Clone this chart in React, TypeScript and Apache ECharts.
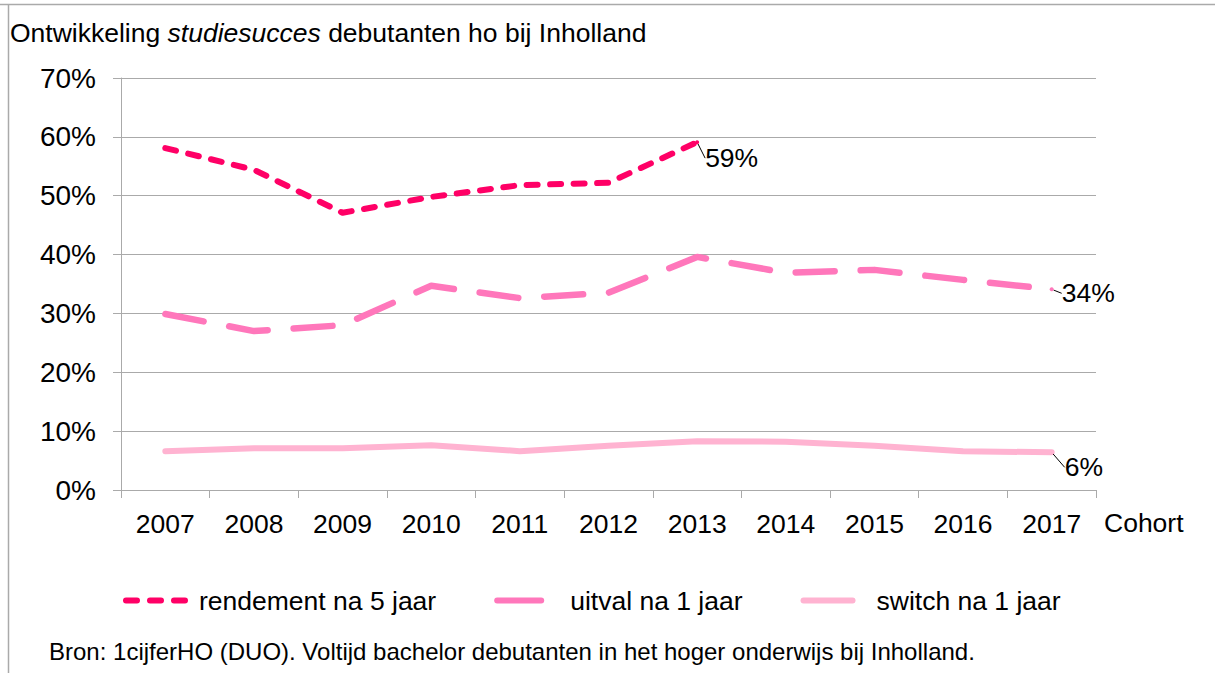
import React, { useEffect, useRef } from "react";
import * as echarts from "echarts";

const FONT = '"Liberation Sans", Arial, sans-serif';

const categories = ["2007", "2008", "2009", "2010", "2011", "2012", "2013", "2014", "2015", "2016", "2017"];
const rendement: (number | null)[] = [58.1, 54.4, 47.1, 49.8, 51.8, 52.2, 59.1, null, null, null, null];
const uitval: number[] = [29.9, 27.0, 28.0, 34.7, 32.6, 33.5, 39.6, 36.9, 37.4, 35.7, 34.1];
const switchVals: number[] = [6.6, 7.1, 7.1, 7.6, 6.6, 7.5, 8.3, 8.2, 7.5, 6.6, 6.4];
const yTicks = [0, 10, 20, 30, 40, 50, 60, 70];

const seriesNames = ["rendement na 5 jaar", "uitval na 1 jaar", "switch na 1 jaar"];
const colors = ["#FF0066", "#FF77BB", "#FFB3D1"];

function lastIndex(arr: (number | null)[]) {
  let k = -1;
  arr.forEach((v, i) => {
    if (v !== null && v !== undefined) k = i;
  });
  return k;
}

function withEndLabel(arr: (number | null)[], color: string, distance: number) {
  const k = lastIndex(arr);
  return arr.map((v, i) => {
    if (v === null) return "-";
    if (i !== k) return v;
    return {
      value: v,
      symbol: "circle",
      symbolSize: 4,
      itemStyle: { color },
      label: {
        show: true,
        position: "right",
        distance,
        formatter: (p: any) => Math.round(p.value) + "%",
        fontSize: 26.5,
        fontFamily: FONT,
        color: "#000",
      },
    };
  });
}

export default function App() {
  const ref = useRef<HTMLDivElement>(null);

  useEffect(() => {
    if (!ref.current) return;
    const chart = echarts.init(ref.current, undefined, { renderer: "svg" });
    const option: any = {
      animation: false,
      backgroundColor: "#fff",
      title: {
        text: "{a|Ontwikkeling }{b|studiesucces}{a| debutanten ho bij Inholland}",
        left: 10,
        top: 19,
        padding: 0,
        textStyle: {
          fontWeight: "normal",
          fontSize: 26.5,
          fontFamily: FONT,
          color: "#000",
          rich: {
            a: { fontSize: 26.5, fontFamily: FONT, color: "#000", fontWeight: "normal" },
            b: { fontSize: 26.5, fontFamily: FONT, color: "#000", fontWeight: "normal", fontStyle: "italic" },
          },
        },
      },
      grid: { left: 121, right: 119, top: 78, bottom: 183, containLabel: false },
      xAxis: {
        type: "category",
        data: categories,
        boundaryGap: true,
        name: "Cohort",
        nameLocation: "end",
        nameGap: 8,
        nameTextStyle: {
          fontSize: 26.5,
          fontFamily: FONT,
          color: "#000",
          align: "left",
          verticalAlign: "top",
          padding: [19, 0, 0, 0],
        },
        axisLine: { show: true, lineStyle: { color: "#aaaaaa", width: 1 } },
        axisTick: { show: true, length: 8, alignWithLabel: false, lineStyle: { color: "#aaaaaa" } },
        axisLabel: { fontSize: 26.5, fontFamily: FONT, color: "#000", margin: 20 },
        splitLine: { show: false },
      },
      yAxis: {
        type: "value",
        min: yTicks[0],
        max: yTicks[yTicks.length - 1],
        interval: 10,
        axisLine: { show: true, lineStyle: { color: "#aaaaaa", width: 1 } },
        axisTick: { show: true, length: 8, lineStyle: { color: "#aaaaaa" } },
        axisLabel: { fontSize: 28, fontFamily: FONT, color: "#000", margin: 25, formatter: "{value}%" },
        splitLine: { show: true, lineStyle: { color: "#aaaaaa", width: 1 } },
      },
      legend: {
        left: 123,
        top: 587,
        padding: 0,
        itemWidth: 68,
        itemHeight: 14,
        itemGap: 58,
        textStyle: { fontSize: 26.5, fontFamily: FONT, color: "#000" },
        data: [
          {
            name: seriesNames[0],
            itemStyle: { opacity: 0 },
            lineStyle: { color: colors[0], width: 6, type: [11, 13], cap: "round" },
          },
          {
            name: seriesNames[1],
            itemStyle: { opacity: 0 },
            lineStyle: { color: colors[1], width: 6, type: [44, 40], cap: "round" },
          },
          {
            name: seriesNames[2],
            itemStyle: { opacity: 0 },
            lineStyle: { color: colors[2], width: 6, type: [49, 40], cap: "round" },
          },
        ],
      },
      series: [
        {
          name: seriesNames[0],
          type: "line",
          data: withEndLabel(rendement, colors[0], 6),
          symbol: "none",
          connectNulls: false,
          color: colors[0],
          lineStyle: { color: colors[0], width: 6, type: [11, 12.5], cap: "round", join: "round" },
          labelLine: { show: true, lineStyle: { color: "#000", width: 1 } },
          labelLayout: { dy: 16 },
          z: 3,
        },
        {
          name: seriesNames[1],
          type: "line",
          data: withEndLabel(uitval, colors[1], 8),
          symbol: "none",
          color: colors[1],
          lineStyle: { color: colors[1], width: 6.5, type: [39, 26], cap: "round", join: "round" },
          labelLine: { show: true, lineStyle: { color: "#000", width: 1 } },
          labelLayout: { dy: 4 },
          z: 2,
        },
        {
          name: seriesNames[2],
          type: "line",
          data: withEndLabel(switchVals, colors[2], 11),
          symbol: "none",
          color: colors[2],
          lineStyle: { color: colors[2], width: 6, type: "solid", cap: "round", join: "round" },
          labelLine: { show: true, lineStyle: { color: "#000", width: 1 } },
          labelLayout: { dy: 15 },
          z: 1,
        },
      ],
      graphic: [
        {
          type: "line",
          shape: { x1: 0, y1: 4.5, x2: 1215, y2: 4.5 },
          style: { stroke: "#aaaaaa", lineWidth: 1.5 },
          silent: true,
        },
        {
          type: "line",
          shape: { x1: 8.5, y1: 4.5, x2: 8.5, y2: 673 },
          style: { stroke: "#aaaaaa", lineWidth: 1.5 },
          silent: true,
        },
        {
          type: "text",
          left: 49,
          top: 639,
          style: {
            text: "Bron: 1cijferHO (DUO). Voltijd bachelor debutanten in het hoger onderwijs bij Inholland.",
            font: '24px "Liberation Sans", Arial, sans-serif',
            fill: "#000",
          },
          silent: true,
        },
      ],
    };
    chart.setOption(option);
    return () => chart.dispose();
  }, []);

  return (
    <div
      ref={ref}
      style={{ position: "absolute", left: 0, top: 0, width: 1215, height: 673 }}
    />
  );
}
